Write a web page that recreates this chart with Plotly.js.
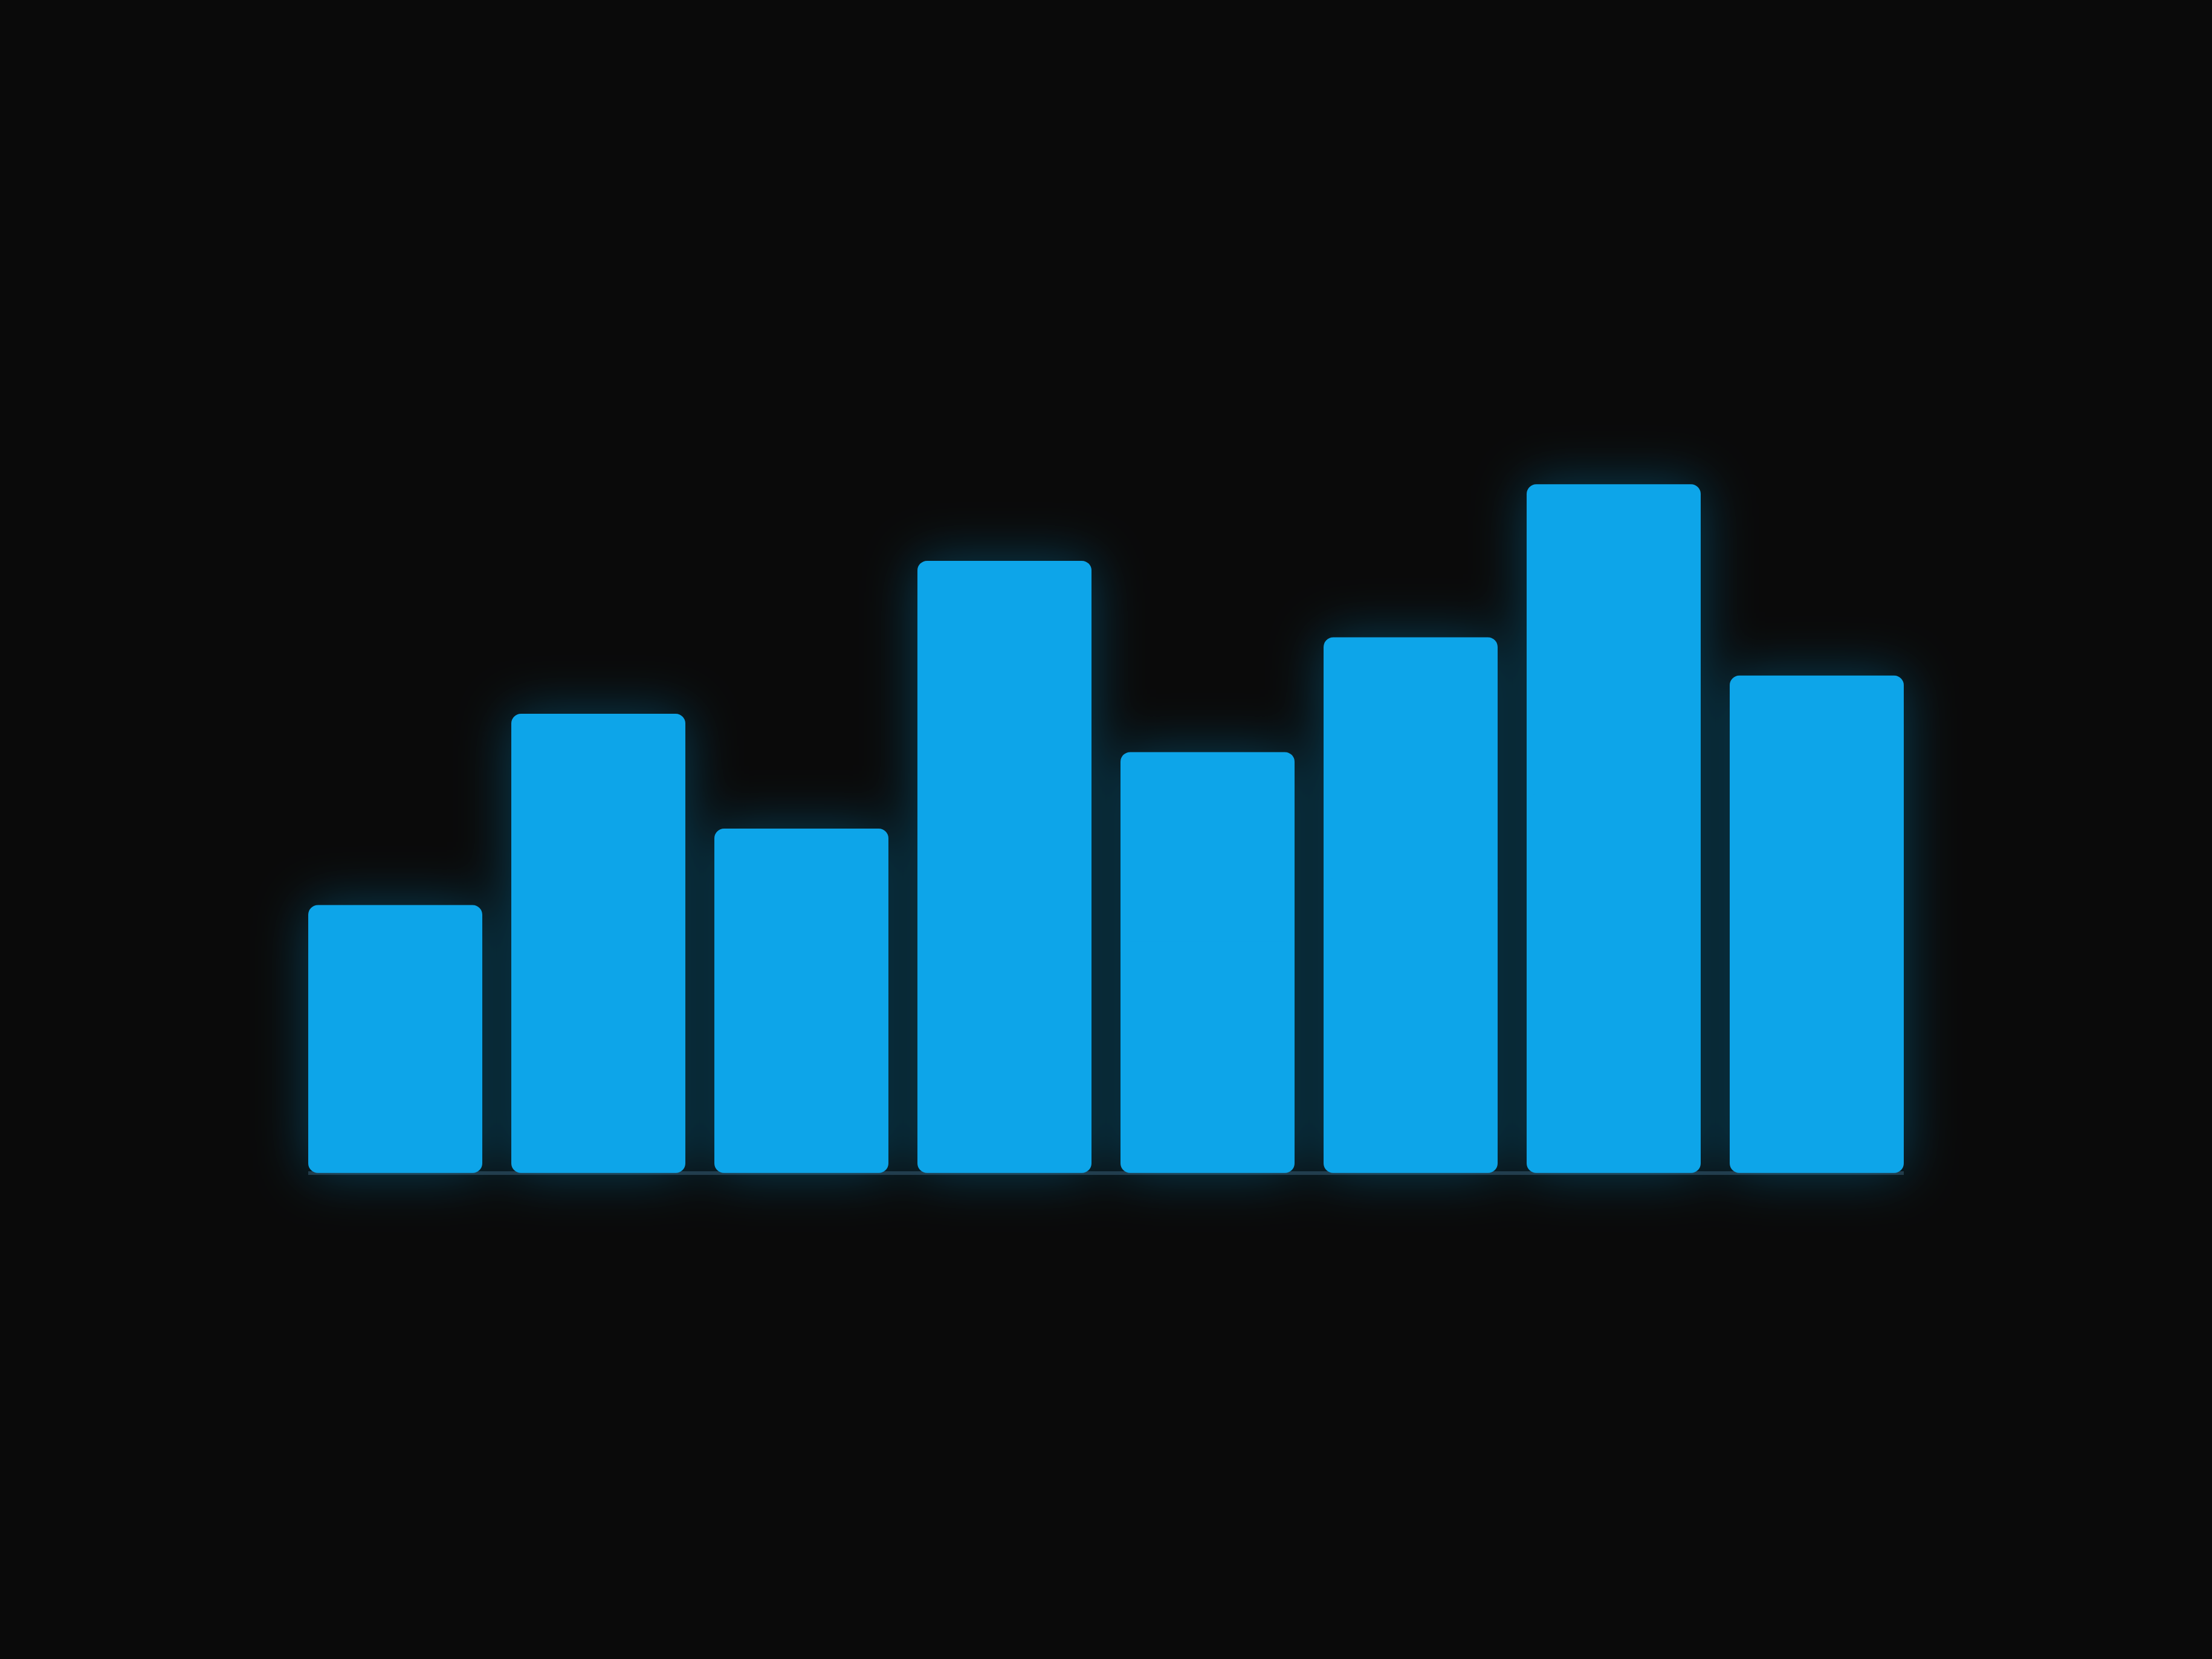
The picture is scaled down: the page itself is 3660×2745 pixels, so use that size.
<!DOCTYPE html>
<html>
<head>
<meta charset="utf-8">
<script src="https://cdn.plot.ly/plotly-3.0.1.min.js"></script>
<style>
  html, body { margin: 0; padding: 0; background: #0a0a0a; }
  #chart { width: 3660px; height: 2745px; }
</style>
</head>
<body>
<div id="chart"></div>
<script>
// ---- data ----
const categories = ['Item 1', 'Item 2', 'Item 3', 'Item 4', 'Item 5', 'Item 6', 'Item 7', 'Item 8'];
const values = [35, 60, 45, 80, 55, 70, 90, 65];

// ---- style ----
const barColor = '#0ea5e9';
const bgColor = '#0a0a0a';
const baselineColor = '#25323c';

// each bar is drawn as two overlapping halves so that both ends get rounded corners
const upperBase = values.map(v => v * 0.45);
const upperLen = values.map(v => v * 0.55);
const lowerBase = values.map(v => v * 0.55);
const lowerLen = values.map(v => -v * 0.55);

const common = {
  type: 'bar',
  x: categories,
  cliponaxis: false,
  marker: { color: barColor, cornerradius: 16, line: { width: 0 } },
  hoverinfo: 'skip'
};

const traces = [
  Object.assign({}, common, { base: upperBase, y: upperLen }),
  Object.assign({}, common, { base: lowerBase, y: lowerLen })
];

const layout = {
  width: 3660,
  height: 2745,
  margin: { l: 510, r: 510, t: 738, b: 741, pad: 0 },
  paper_bgcolor: bgColor,
  plot_bgcolor: bgColor,
  barmode: 'overlay',
  bargap: 1 / 7,
  showlegend: false,
  xaxis: {
    type: 'category',
    range: [-3 / 7, 7 + 3 / 7],
    showgrid: false, showline: false, showticklabels: false,
    ticks: '', zeroline: false, fixedrange: true
  },
  yaxis: {
    range: [-5, 95],
    showgrid: false, showline: false, showticklabels: false, ticks: '',
    zeroline: true, zerolinecolor: baselineColor, zerolinewidth: 6,
    fixedrange: true
  }
};

Plotly.newPlot('chart', traces, layout, { staticPlot: true, displayModeBar: false }).then(gd => {
  const NS = 'http://www.w3.org/2000/svg';
  const svg = gd.querySelector('svg.main-svg');
  let defs = svg.querySelector('defs');
  if (!defs) { defs = document.createElementNS(NS, 'defs'); svg.insertBefore(defs, svg.firstChild); }
  const f = document.createElementNS(NS, 'filter');
  f.setAttribute('id', 'barglow');
  f.setAttribute('filterUnits', 'userSpaceOnUse');
  f.setAttribute('x', '-1000'); f.setAttribute('y', '-1000');
  f.setAttribute('width', '6000'); f.setAttribute('height', '6000');
  f.innerHTML =
    '<feGaussianBlur in="SourceAlpha" stdDeviation="44" result="blur"/>' +
    '<feFlood flood-color="' + barColor + '" flood-opacity="0.34" result="col"/>' +
    '<feComposite in="col" in2="blur" operator="in" result="glow"/>' +
    '<feMerge><feMergeNode in="glow"/><feMergeNode in="SourceGraphic"/></feMerge>';
  defs.appendChild(f);
  gd.querySelectorAll('.barlayer').forEach(g => {
    g.setAttribute('filter', 'url(#barglow)');
    let p = g;
    while (p && p !== svg) {
      if (p.removeAttribute) p.removeAttribute('clip-path');
      p = p.parentNode;
    }
    g.querySelectorAll('[clip-path]').forEach(n => n.removeAttribute('clip-path'));
  });
});
</script>
</body>
</html>
